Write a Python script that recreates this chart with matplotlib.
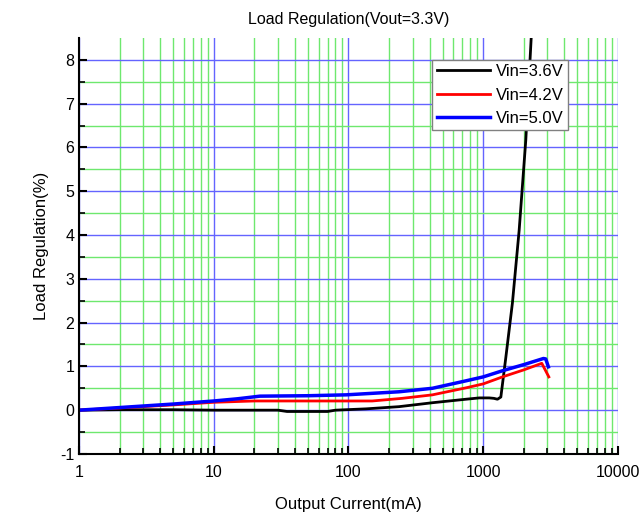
import numpy as np
import matplotlib.pyplot as plt
from matplotlib.ticker import LogLocator, FixedLocator, FixedFormatter, NullFormatter

plt.rcParams['font.family'] = ['Liberation Sans', 'DejaVu Sans']
plt.rcParams['axes.unicode_minus'] = False

# Datos
i_36 = [1, 2, 5, 10, 20, 30, 35, 70, 80, 135, 237, 420, 745, 935, 1108, 1200, 1276,
        1352, 1473, 1648, 1849, 2071, 2280]
r_36 = [0, 0.01, 0.01, 0, 0, 0, -0.03, -0.03, 0, 0.03, 0.08, 0.17, 0.25, 0.28, 0.28,
        0.27, 0.25, 0.30, 1.21, 2.45, 4.11, 6.17, 8.6]

i_42 = [1, 2, 5, 10, 20, 50, 100, 150, 178, 250, 420, 745, 1000, 1390, 2000, 2722, 3070]
r_42 = [0, 0.05, 0.12, 0.18, 0.21, 0.21, 0.21, 0.21, 0.23, 0.27, 0.35, 0.51, 0.60, 0.76,
        0.92, 1.07, 0.76]

i_50 = [1, 2, 5, 10, 15, 22, 50, 96, 237, 420, 745, 1000, 1390, 2000, 2800, 2912, 3047]
r_50 = [0, 0.06, 0.14, 0.21, 0.26, 0.32, 0.33, 0.35, 0.42, 0.50, 0.67, 0.76, 0.90,
        1.04, 1.18, 1.17, 0.99]

labels = ['Vin=3.6V', 'Vin=4.2V', 'Vin=5.0V']
xticks = [1, 10, 100, 1000, 10000]
xticklabels = ['1', '10', '100', '1000', '10000']

# =============================================
#                  GRAFICA
# =============================================

fig = plt.figure(figsize=(6.43, 5.20), dpi=100)
ax = fig.add_axes([0.1229, 0.127, 0.8381, 0.8])

ax.plot(i_36, r_36, color='black', linewidth=2.0, label=labels[0])
ax.plot(i_42, r_42, color='red', linewidth=2.0, label=labels[1])
ax.plot(i_50, r_50, color='blue', linewidth=2.5, label=labels[2])

ax.set_xscale('log')
ax.set_xlim(1, 10000)
ax.set_ylim(-1, 8.5)

ax.xaxis.set_major_locator(FixedLocator(xticks))
ax.xaxis.set_major_formatter(FixedFormatter(xticklabels))
ax.xaxis.set_minor_locator(LogLocator(base=10, subs=np.arange(2, 10)))
ax.xaxis.set_minor_formatter(NullFormatter())
ax.set_yticks(np.arange(-1, 9, 1))
ax.set_yticks(np.arange(-0.5, 8.5, 0.5), minor=True)

ax.grid(which='minor', color='#6ee86e', linewidth=1.0)
ax.grid(which='major', color='#6464ff', linewidth=1.0)
ax.set_axisbelow(True)

for s in ['top', 'right']:
    ax.spines[s].set_visible(False)
for s in ['left', 'bottom']:
    ax.spines[s].set_linewidth(1.5)

ax.tick_params(which='major', direction='in', length=6, width=1.5, labelsize=11.5)
ax.tick_params(which='minor', direction='in', length=4, width=1.2)
ax.tick_params(axis='x', pad=8)

ax.set_title('Load Regulation(Vout=3.3V)', fontsize=11.5, pad=10)
ax.set_xlabel('Output Current(mA)', fontsize=12, labelpad=12)
ax.set_ylabel('Load Regulation(%)', fontsize=12, labelpad=8)

leg = ax.legend(loc='upper right', bbox_to_anchor=(0.907, 0.947), fontsize=12,
                fancybox=False, framealpha=1, edgecolor='gray', handlelength=3.2,
                borderpad=0.25, labelspacing=0.5, handletextpad=0.35, borderaxespad=0)
leg.get_frame().set_linewidth(1.0)

fig.savefig('out.png', dpi=100)
